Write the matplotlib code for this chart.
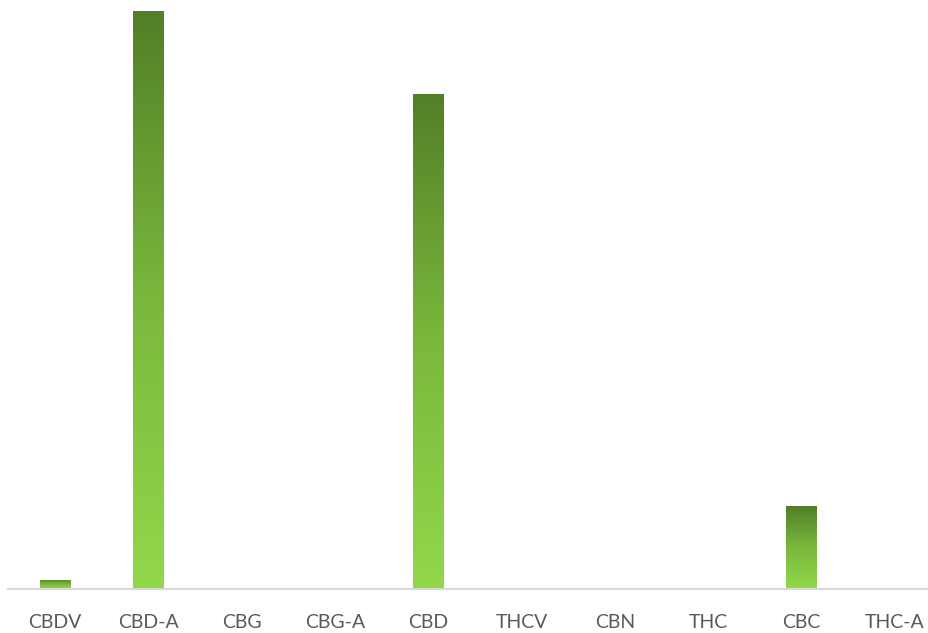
import numpy as np
import matplotlib
matplotlib.use("Agg")
import matplotlib.pyplot as plt
from matplotlib.colors import LinearSegmentedColormap

categories = ["CBDV", "CBD-A", "CBG", "CBG-A", "CBD", "THCV", "CBN", "THC", "CBC", "THC-A"]
values = [0.11, 7.0, 0, 0, 6.0, 0, 0, 0, 1.0, 0]

W, H = 929, 633
fig = plt.figure(figsize=(W / 100, H / 100), dpi=100)
left = 8.35 / W
width = 933 / W
bottom = (H - 589) / H
top_px = 0
ax = fig.add_axes([left, bottom, width, (589 - top_px) / H])
ax.set_xlim(-0.5, len(categories) - 0.5)
ax.set_ylim(0, 589 / (578 / 7.0))

bars = ax.bar(range(len(categories)), values, width=0.33, color="none", edgecolor="none", zorder=2)
cmap = LinearSegmentedColormap.from_list("g", ["#92d84a", "#7ab83c", "#527f27"])
grad = np.linspace(0, 1, 256).reshape(-1, 1)
for b in bars:
    h = b.get_height()
    if h <= 0:
        continue
    x0 = b.get_x()
    im = ax.imshow(grad, cmap=cmap, origin="lower", aspect="auto",
                   extent=[x0, x0 + b.get_width(), 0, h], zorder=2)
    im.set_clip_path(b)
ax.set_xlim(-0.5, len(categories) - 0.5)
ax.set_ylim(0, 589 / (578 / 7.0))

for s in ["top", "right", "left"]:
    ax.spines[s].set_visible(False)
ax.spines["bottom"].set_color("#d9d9d9")
ax.spines["bottom"].set_linewidth(1.5)
ax.set_yticks([])
ax.set_xticks(range(len(categories)))
ax.set_xticklabels(categories, fontsize=14, color="#595959", family=["Lato", "DejaVu Sans"])
ax.tick_params(axis="x", length=0, pad=18)

fig.savefig("out.png", dpi=100)
